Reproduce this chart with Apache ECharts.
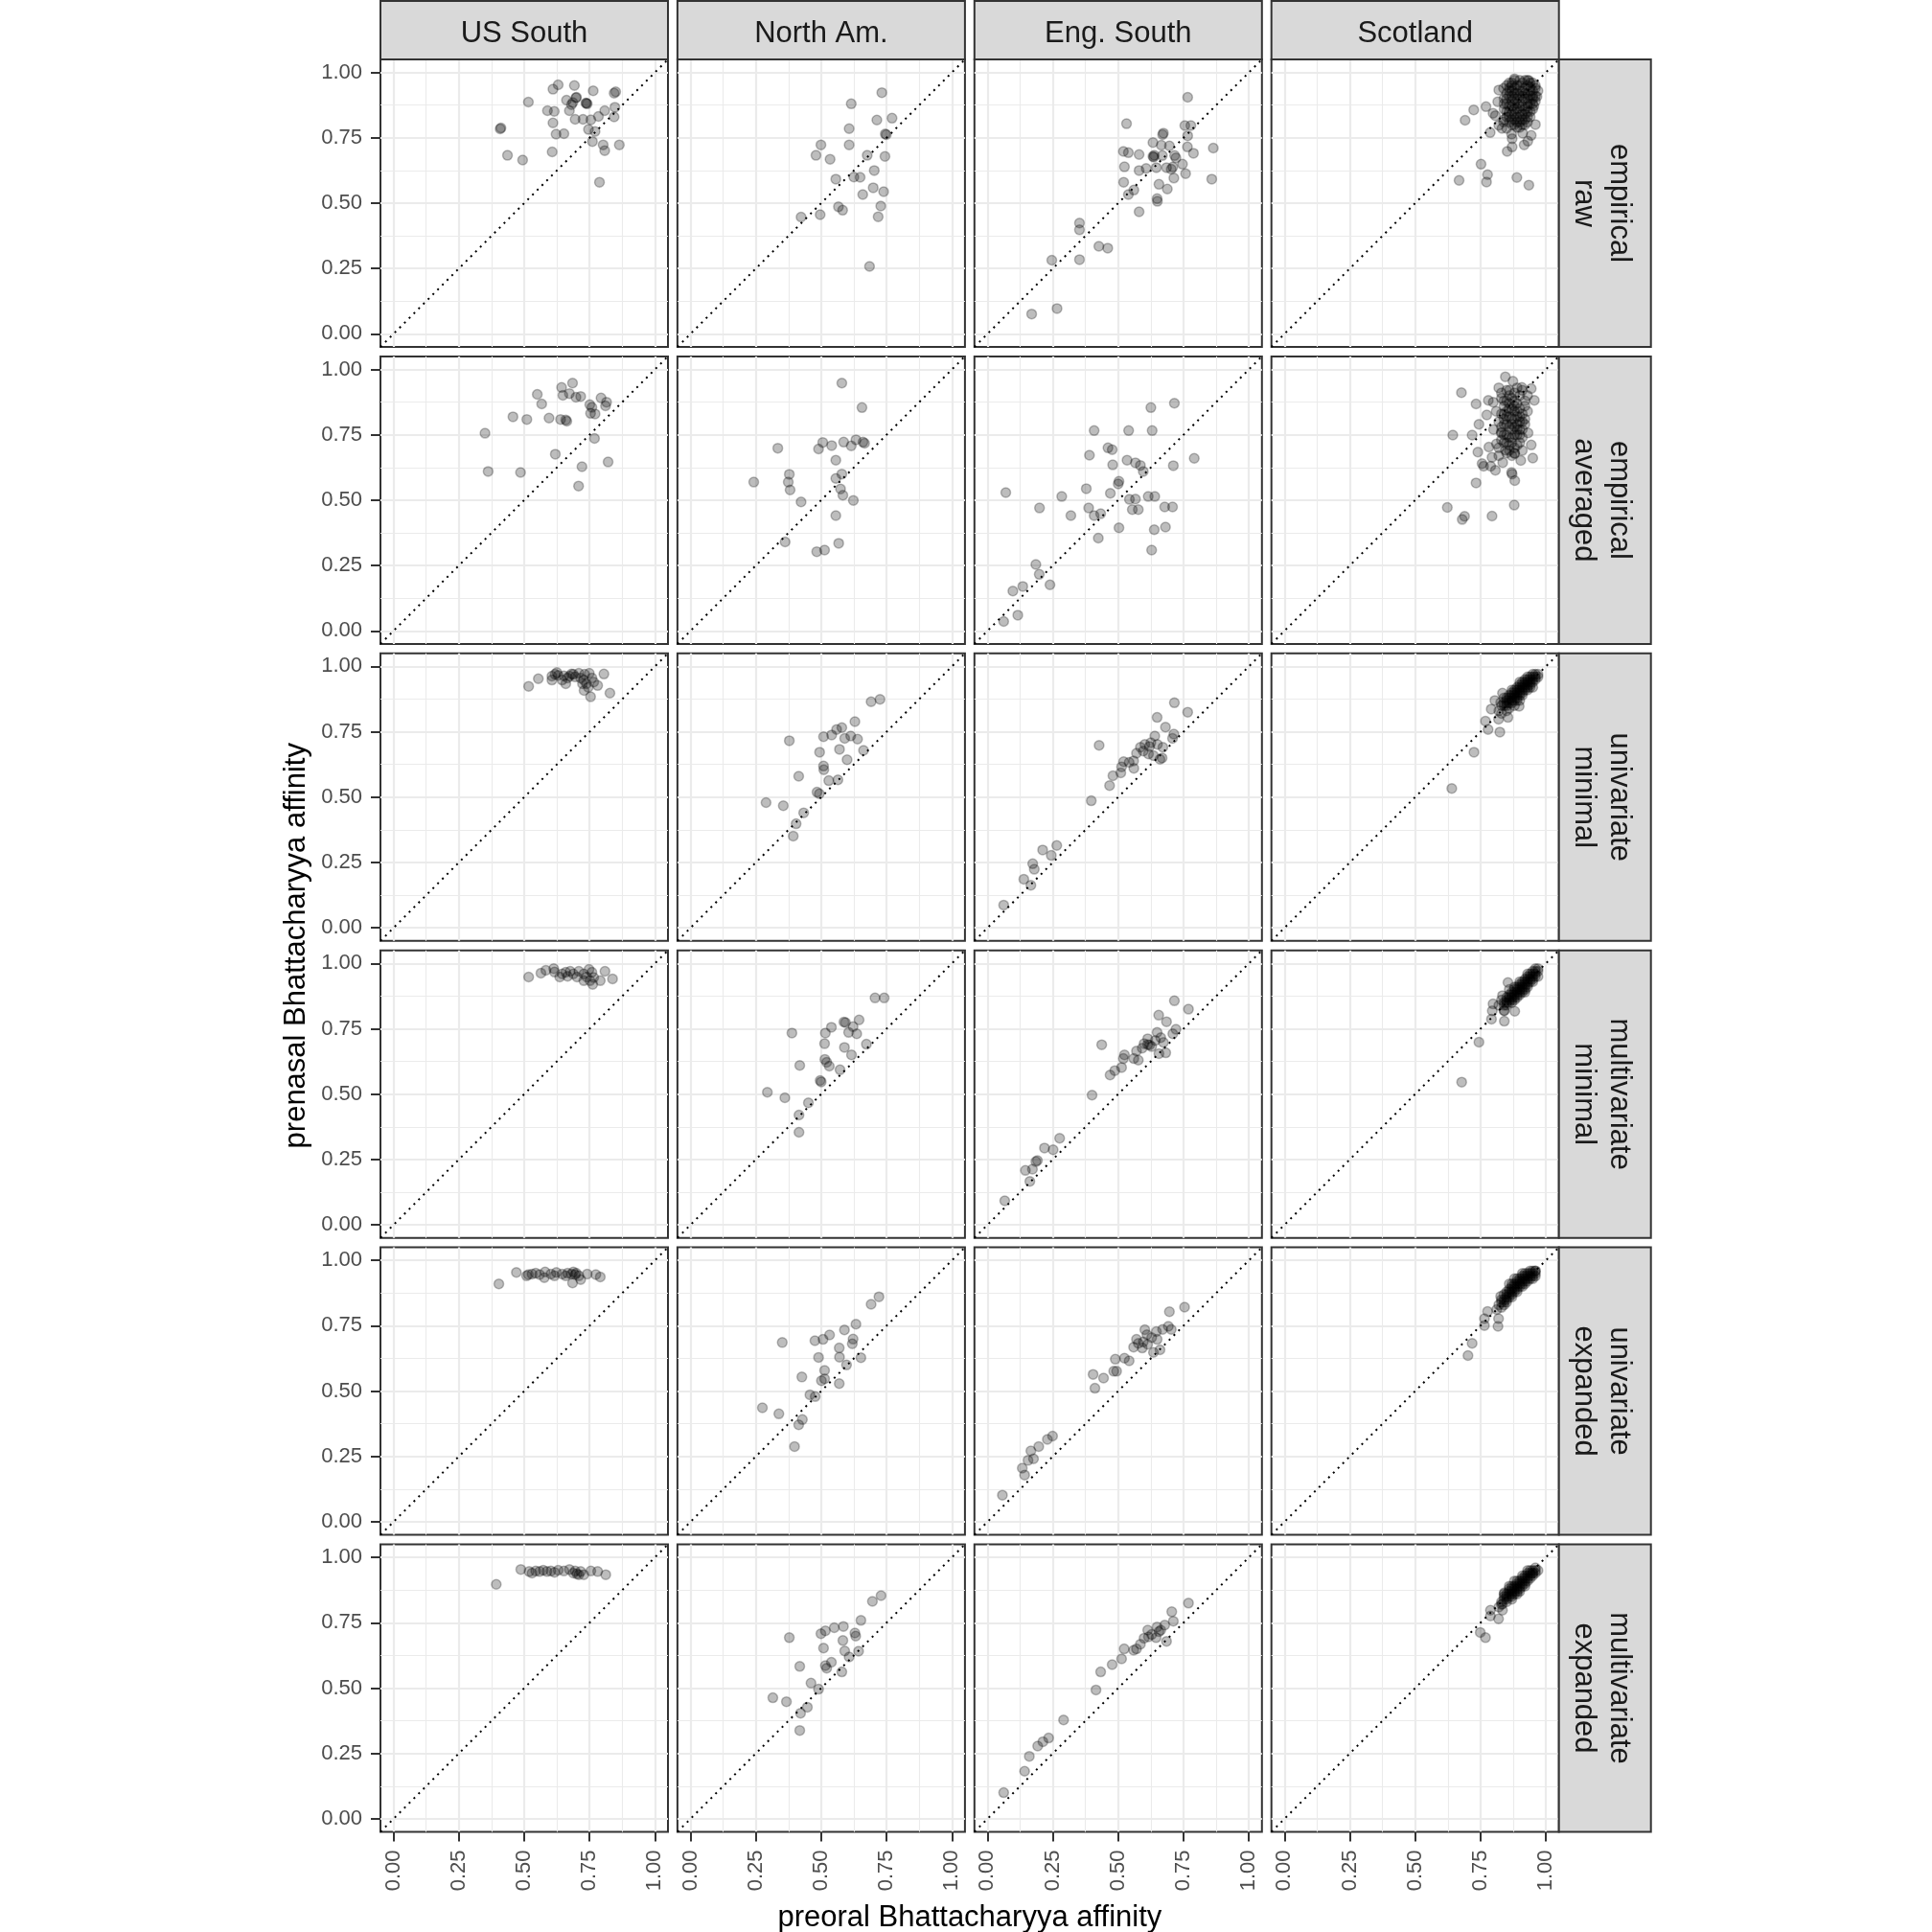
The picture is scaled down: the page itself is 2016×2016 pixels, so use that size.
<!DOCTYPE html>
<html><head><meta charset="utf-8">
<script src="https://cdn.jsdelivr.net/npm/echarts@6/dist/echarts.min.js"></script>
<style>html,body{margin:0;padding:0;background:#fff}#chart{width:2016px;height:2016px}</style>
</head><body><div id="chart"></div>
<script>
// ---------- labels ----------
const columnLabels = ["US South", "North Am.", "Eng. South", "Scotland"];
const rowLabels = ["empirical\nraw", "empirical\naveraged", "univariate\nminimal", "multivariate\nminimal", "univariate\nexpanded", "multivariate\nexpanded"];
const xTitle = "preoral Bhattacharyya affinity";
const yTitle = "prenasal Bhattacharyya affinity";
const tickValues = [0, 0.25, 0.5, 0.75, 1];
const tickLabels = ["0.00", "0.25", "0.50", "0.75", "1.00"];
const minorTickValues = [0.125, 0.375, 0.625, 0.875];
const axisRange = [-0.05, 1.05];
const refLine = [-0.05, 1.05];

// ---------- row 1: empirical raw ----------
const usSouth_empRaw = [[0.63,0.953],[0.61,0.936],[0.692,0.95],[0.764,0.93],[0.85,0.926],[0.844,0.921],[0.516,0.887],[0.662,0.894],[0.698,0.903],[0.70,0.905],[0.686,0.885],[0.681,0.877],[0.736,0.883],[0.741,0.88],[0.738,0.882],[0.589,0.854],[0.615,0.851],[0.673,0.854],[0.808,0.854],[0.847,0.867],[0.695,0.821],[0.725,0.821],[0.755,0.819],[0.784,0.832],[0.844,0.83],[0.61,0.807],[0.411,0.788],[0.408,0.784],[0.746,0.782],[0.771,0.774],[0.622,0.764],[0.652,0.766],[0.761,0.736],[0.802,0.723],[0.864,0.723],[0.808,0.701],[0.607,0.696],[0.436,0.683],[0.494,0.665],[0.788,0.58]];
const northAm_empRaw = [[0.732,0.923],[0.615,0.88],[0.713,0.818],[0.771,0.825],[0.607,0.785],[0.745,0.765],[0.749,0.762],[0.499,0.723],[0.607,0.723],[0.48,0.683],[0.534,0.668],[0.676,0.683],[0.744,0.679],[0.703,0.625],[0.556,0.592],[0.625,0.6],[0.649,0.599],[0.699,0.559],[0.739,0.544],[0.659,0.533],[0.728,0.489],[0.566,0.486],[0.582,0.473],[0.423,0.447],[0.496,0.456],[0.718,0.448],[0.685,0.258]];
const engSouth_empRaw = [[0.766,0.905],[0.532,0.804],[0.755,0.797],[0.778,0.797],[0.673,0.768],[0.67,0.762],[0.766,0.758],[0.633,0.732],[0.665,0.722],[0.696,0.719],[0.864,0.711],[0.765,0.715],[0.52,0.698],[0.539,0.693],[0.58,0.686],[0.638,0.683],[0.633,0.679],[0.636,0.676],[0.669,0.682],[0.716,0.682],[0.721,0.673],[0.788,0.691],[0.524,0.639],[0.58,0.625],[0.607,0.633],[0.646,0.636],[0.685,0.636],[0.703,0.63],[0.709,0.638],[0.746,0.649],[0.758,0.613],[0.713,0.596],[0.521,0.58],[0.858,0.592],[0.656,0.572],[0.688,0.554],[0.56,0.55],[0.539,0.533],[0.649,0.517],[0.65,0.507],[0.58,0.467],[0.352,0.424],[0.352,0.398],[0.426,0.335],[0.46,0.328],[0.246,0.282],[0.352,0.284],[0.169,0.076],[0.266,0.097]];
const scotland_empRaw = [[0.691,0.817],[0.724,0.857],[0.771,0.869],[0.82,0.933],[0.838,0.939],[0.816,0.888],[0.798,0.844],[0.787,0.77],[0.82,0.798],[0.832,0.786],[0.85,0.786],[0.88,0.976],[0.935,0.969],[0.752,0.649],[0.777,0.609],[0.773,0.581],[0.668,0.587],[0.889,0.598],[0.935,0.569],[0.852,0.698],[0.871,0.715],[0.871,0.747],[0.869,0.764],[0.917,0.723],[0.931,0.737],[0.944,0.759],[0.96,0.801],[0.911,0.768],[0.954,0.872],[0.966,0.908],[0.941,0.945],[0.807,0.835],[0.838,0.811],
  [0.85,0.95],[0.87,0.96],[0.89,0.95],[0.91,0.96],[0.93,0.95],[0.95,0.96],[0.86,0.93],[0.88,0.92],[0.90,0.93],[0.92,0.92],[0.94,0.93],[0.96,0.94],[0.85,0.90],[0.87,0.89],[0.89,0.90],[0.91,0.89],[0.93,0.90],[0.95,0.91],[0.84,0.88],[0.86,0.87],[0.88,0.86],[0.90,0.87],[0.92,0.86],[0.94,0.88],[0.85,0.85],[0.87,0.84],[0.89,0.83],[0.91,0.84],[0.93,0.85],[0.95,0.86],[0.84,0.82],[0.86,0.81],[0.88,0.82],[0.90,0.81],[0.92,0.82],[0.94,0.83],[0.87,0.80],[0.89,0.79],[0.91,0.80],[0.93,0.81],[0.86,0.94],[0.90,0.97],[0.92,0.94],[0.88,0.94],[0.89,0.88],[0.91,0.91],[0.87,0.91],[0.93,0.88],[0.90,0.85],[0.88,0.88],
  [0.86,0.96],[0.88,0.97],[0.92,0.97],[0.94,0.96],[0.96,0.95],[0.97,0.93],[0.85,0.92],[0.87,0.93],[0.89,0.92],[0.91,0.93],[0.93,0.92],[0.95,0.93],[0.96,0.91],[0.86,0.91],[0.88,0.90],[0.90,0.91],[0.92,0.90],[0.94,0.91],[0.96,0.89],[0.85,0.88],[0.87,0.87],[0.89,0.86],[0.91,0.87],[0.93,0.87],[0.95,0.88],[0.84,0.86],[0.86,0.85],[0.88,0.84],[0.90,0.83],[0.92,0.84],[0.94,0.85],[0.85,0.83],[0.87,0.82],[0.89,0.81],[0.91,0.82],[0.93,0.83],[0.88,0.80],[0.90,0.79],[0.92,0.80],[0.86,0.83],[0.84,0.90],[0.95,0.90],[0.90,0.95],[0.87,0.95],[0.93,0.97]];

// ---------- row 2: empirical averaged ----------
const usSouth_empAvg = [[0.685,0.948],[0.643,0.931],[0.648,0.901],[0.673,0.908],[0.698,0.894],[0.716,0.897],[0.55,0.905],[0.567,0.868],[0.751,0.865],[0.759,0.855],[0.794,0.891],[0.815,0.875],[0.811,0.861],[0.754,0.832],[0.771,0.83],[0.457,0.819],[0.51,0.809],[0.595,0.814],[0.639,0.809],[0.659,0.807],[0.663,0.802],[0.35,0.756],[0.769,0.736],[0.619,0.676],[0.821,0.646],[0.721,0.628],[0.362,0.61],[0.486,0.606],[0.708,0.554]];
const northAm_empAvg = [[0.579,0.948],[0.656,0.854],[0.334,0.699],[0.506,0.721],[0.49,0.696],[0.54,0.709],[0.586,0.722],[0.615,0.708],[0.633,0.731],[0.66,0.722],[0.666,0.718],[0.556,0.653],[0.378,0.599],[0.374,0.569],[0.381,0.539],[0.242,0.569],[0.579,0.6],[0.556,0.583],[0.574,0.543],[0.583,0.519],[0.623,0.499],[0.423,0.493],[0.556,0.441],[0.362,0.34],[0.567,0.335],[0.483,0.303],[0.513,0.309]];
const engSouth_empAvg = [[0.625,0.854],[0.715,0.871],[0.408,0.766],[0.54,0.766],[0.63,0.766],[0.461,0.7],[0.477,0.693],[0.39,0.672],[0.791,0.66],[0.479,0.635],[0.534,0.653],[0.566,0.643],[0.585,0.633],[0.596,0.61],[0.711,0.632],[0.503,0.572],[0.5,0.562],[0.378,0.544],[0.284,0.514],[0.07,0.529],[0.199,0.47],[0.319,0.441],[0.387,0.47],[0.408,0.441],[0.433,0.448],[0.47,0.526],[0.543,0.503],[0.566,0.504],[0.615,0.514],[0.64,0.514],[0.554,0.464],[0.577,0.464],[0.678,0.474],[0.708,0.474],[0.503,0.394],[0.638,0.387],[0.681,0.397],[0.424,0.355],[0.628,0.309],[0.185,0.254],[0.198,0.216],[0.135,0.17],[0.097,0.152],[0.239,0.176],[0.116,0.06],[0.062,0.036]];
const scotland_empAvg = [[0.845,0.972],[0.874,0.955],[0.677,0.911],[0.733,0.868],[0.78,0.882],[0.799,0.875],[0.774,0.826],[0.744,0.79],[0.644,0.749],[0.718,0.749],[0.74,0.684],[0.782,0.703],[0.794,0.664],[0.756,0.64],[0.762,0.63],[0.789,0.63],[0.807,0.614],[0.835,0.644],[0.869,0.606],[0.881,0.575],[0.904,0.652],[0.95,0.661],[0.944,0.711],[0.932,0.757],[0.956,0.882],[0.944,0.927],[0.908,0.931],[0.733,0.566],[0.623,0.472],[0.689,0.438],[0.68,0.426],[0.794,0.439],[0.879,0.481],[0.871,0.6],[0.845,0.691],[0.881,0.678],[0.811,0.715],[0.829,0.757],
  [0.82,0.93],[0.85,0.92],[0.88,0.91],[0.91,0.92],[0.93,0.90],[0.83,0.89],[0.85,0.88],[0.87,0.89],[0.89,0.87],[0.92,0.88],[0.84,0.86],[0.86,0.85],[0.88,0.84],[0.90,0.85],[0.83,0.83],[0.85,0.82],[0.87,0.81],[0.89,0.82],[0.91,0.80],[0.82,0.80],[0.84,0.79],[0.86,0.78],[0.88,0.78],[0.90,0.77],[0.92,0.79],[0.83,0.76],[0.85,0.75],[0.87,0.74],[0.89,0.75],[0.91,0.74],[0.84,0.72],[0.86,0.71],[0.88,0.70],[0.90,0.72],[0.82,0.70],[0.85,0.68],[0.87,0.67],[0.80,0.77],[0.81,0.84],[0.93,0.84],[0.86,0.90],[0.89,0.79],[0.84,0.81],[0.88,0.86],[0.90,0.82],
  [0.83,0.91],[0.86,0.92],[0.89,0.93],[0.90,0.90],[0.92,0.86],[0.84,0.88],[0.86,0.87],[0.88,0.88],[0.87,0.85],[0.89,0.84],[0.91,0.83],[0.85,0.84],[0.84,0.83],[0.86,0.82],[0.88,0.81],[0.90,0.80],[0.92,0.81],[0.83,0.78],[0.85,0.79],[0.87,0.79],[0.89,0.77],[0.91,0.77],[0.84,0.75],[0.86,0.74],[0.88,0.75],[0.90,0.75],[0.85,0.72],[0.87,0.72],[0.89,0.71],[0.83,0.73],[0.86,0.69],[0.88,0.68],[0.82,0.67],[0.91,0.69],[0.87,0.77]];

// ---------- row 3: univariate minimal ----------
const usSouth_uniMin = [[0.517,0.924],[0.554,0.953],[0.606,0.948],[0.606,0.963],[0.625,0.977],[0.618,0.97],[0.645,0.948],[0.659,0.934],[0.673,0.963],[0.688,0.97],[0.709,0.974],[0.731,0.97],[0.749,0.974],[0.728,0.948],[0.738,0.934],[0.729,0.908],[0.754,0.884],[0.781,0.927],[0.805,0.971],[0.828,0.898],[0.759,0.956],[0.716,0.956],[0.695,0.96],[0.666,0.956],[0.63,0.966],[0.745,0.92],[0.766,0.94],[0.652,0.964],[0.681,0.971],[0.723,0.934]];
const northAm_uniMin = [[0.691,0.865],[0.725,0.874],[0.629,0.789],[0.579,0.766],[0.559,0.759],[0.509,0.731],[0.54,0.738],[0.59,0.725],[0.613,0.734],[0.639,0.722],[0.378,0.716],[0.57,0.683],[0.662,0.679],[0.494,0.672],[0.599,0.643],[0.509,0.619],[0.51,0.605],[0.414,0.58],[0.529,0.563],[0.564,0.566],[0.484,0.519],[0.493,0.513],[0.289,0.479],[0.355,0.467],[0.433,0.44],[0.404,0.398],[0.393,0.351]];
const engSouth_uniMin = [[0.715,0.861],[0.766,0.825],[0.649,0.805],[0.427,0.698],[0.681,0.768],[0.713,0.741],[0.708,0.725],[0.64,0.734],[0.602,0.702],[0.625,0.708],[0.65,0.702],[0.671,0.691],[0.57,0.668],[0.596,0.676],[0.616,0.665],[0.635,0.659],[0.66,0.645],[0.668,0.65],[0.542,0.633],[0.559,0.639],[0.521,0.636],[0.513,0.616],[0.56,0.61],[0.51,0.593],[0.48,0.582],[0.467,0.544],[0.397,0.486],[0.265,0.315],[0.211,0.298],[0.244,0.277],[0.173,0.245],[0.179,0.224],[0.139,0.186],[0.166,0.163],[0.062,0.087],[0.585,0.691],[0.62,0.694]];
const scotland_uniMin = [[0.64,0.533],[0.725,0.672],[0.824,0.749],[0.779,0.759],[0.769,0.791],[0.791,0.837],[0.827,0.862],[0.834,0.898],[0.819,0.798],[0.855,0.805],[0.898,0.848],[0.805,0.87],
  [0.84,0.86],[0.85,0.85],[0.85,0.88],[0.86,0.87],[0.86,0.89],[0.87,0.86],[0.87,0.88],[0.87,0.90],[0.88,0.87],[0.88,0.89],[0.88,0.91],[0.89,0.88],[0.89,0.90],[0.89,0.92],[0.90,0.89],[0.90,0.91],[0.90,0.93],[0.91,0.90],[0.91,0.92],[0.91,0.94],[0.92,0.91],[0.92,0.93],[0.92,0.95],[0.93,0.92],[0.93,0.94],[0.93,0.96],[0.94,0.93],[0.94,0.95],[0.95,0.94],[0.95,0.96],[0.96,0.95],[0.96,0.97],[0.97,0.96],[0.86,0.84],[0.83,0.85],[0.84,0.88],[0.88,0.85],[0.90,0.87],[0.95,0.92],[0.97,0.97],[0.82,0.83],[0.83,0.82],[0.85,0.83],
  [0.85,0.87],[0.86,0.86],[0.87,0.89],[0.88,0.88],[0.89,0.91],[0.90,0.90],[0.91,0.93],[0.92,0.92],[0.93,0.95],[0.94,0.94],[0.95,0.95],[0.96,0.96],[0.86,0.88],[0.87,0.87],[0.88,0.90],[0.89,0.89],[0.90,0.92],[0.91,0.91],[0.92,0.94],[0.93,0.93],[0.94,0.96],[0.95,0.97],[0.84,0.85],[0.85,0.86],[0.89,0.87],[0.91,0.89],[0.93,0.91],[0.87,0.91],[0.90,0.94],[0.94,0.92]];

// ---------- row 4: multivariate minimal ----------
const usSouth_multiMin = [[0.517,0.948],[0.564,0.963],[0.583,0.974],[0.613,0.98],[0.616,0.967],[0.636,0.948],[0.659,0.966],[0.676,0.97],[0.688,0.96],[0.709,0.97],[0.728,0.96],[0.748,0.977],[0.759,0.966],[0.766,0.946],[0.728,0.934],[0.762,0.92],[0.791,0.934],[0.809,0.97],[0.838,0.941],[0.645,0.96],[0.666,0.951],[0.702,0.948],[0.739,0.948],[0.752,0.934]];
const northAm_multiMin = [[0.706,0.868],[0.741,0.868],[0.645,0.784],[0.587,0.776],[0.593,0.774],[0.622,0.758],[0.539,0.756],[0.516,0.734],[0.605,0.736],[0.636,0.731],[0.388,0.734],[0.513,0.693],[0.673,0.691],[0.589,0.679],[0.616,0.65],[0.514,0.633],[0.521,0.622],[0.531,0.607],[0.572,0.593],[0.418,0.61],[0.496,0.552],[0.5,0.547],[0.294,0.507],[0.361,0.486],[0.451,0.467],[0.415,0.42],[0.415,0.354]];
const engSouth_multiMin = [[0.715,0.857],[0.769,0.825],[0.655,0.802],[0.685,0.777],[0.437,0.689],[0.721,0.748],[0.709,0.731],[0.649,0.736],[0.613,0.712],[0.642,0.705],[0.663,0.716],[0.673,0.698],[0.599,0.693],[0.62,0.688],[0.592,0.676],[0.57,0.665],[0.682,0.658],[0.656,0.655],[0.524,0.65],[0.52,0.636],[0.56,0.636],[0.577,0.63],[0.513,0.602],[0.487,0.59],[0.469,0.573],[0.4,0.496],[0.276,0.331],[0.218,0.294],[0.251,0.287],[0.191,0.246],[0.185,0.242],[0.172,0.213],[0.145,0.208],[0.162,0.166],[0.066,0.092],[0.628,0.682],[0.613,0.69]];
const scotland_multiMin = [[0.678,0.546],[0.744,0.699],[0.792,0.787],[0.841,0.779],[0.795,0.819],[0.798,0.845],[0.841,0.819],[0.881,0.817],[0.855,0.927],[0.834,0.877],
  [0.84,0.85],[0.85,0.87],[0.85,0.84],[0.86,0.86],[0.86,0.88],[0.87,0.87],[0.87,0.89],[0.87,0.85],[0.88,0.88],[0.88,0.90],[0.88,0.86],[0.89,0.89],[0.89,0.91],[0.89,0.87],[0.90,0.90],[0.90,0.92],[0.90,0.88],[0.91,0.91],[0.91,0.93],[0.91,0.89],[0.92,0.92],[0.92,0.94],[0.92,0.90],[0.93,0.93],[0.93,0.95],[0.93,0.91],[0.94,0.94],[0.94,0.96],[0.95,0.95],[0.95,0.97],[0.96,0.96],[0.96,0.98],[0.97,0.97],[0.95,0.93],[0.83,0.86],[0.86,0.90],[0.82,0.84],[0.84,0.82],[0.97,0.95],
  [0.85,0.86],[0.86,0.85],[0.87,0.88],[0.88,0.87],[0.89,0.90],[0.90,0.89],[0.91,0.92],[0.92,0.91],[0.93,0.94],[0.94,0.93],[0.95,0.96],[0.96,0.95],[0.97,0.98],[0.86,0.87],[0.87,0.86],[0.88,0.89],[0.89,0.88],[0.90,0.91],[0.91,0.90],[0.92,0.93],[0.93,0.92],[0.94,0.95],[0.95,0.94],[0.96,0.97],[0.84,0.84],[0.85,0.85],[0.88,0.91],[0.90,0.93],[0.93,0.96],[0.92,0.89]];

// ---------- row 5: univariate expanded ----------
const usSouth_uniExp = [[0.403,0.91],[0.47,0.954],[0.516,0.946],[0.53,0.948],[0.544,0.951],[0.58,0.956],[0.577,0.934],[0.602,0.948],[0.623,0.954],[0.645,0.948],[0.666,0.951],[0.681,0.948],[0.688,0.956],[0.695,0.946],[0.685,0.914],[0.716,0.927],[0.741,0.948],[0.774,0.946],[0.791,0.937],[0.559,0.946],[0.616,0.941],[0.659,0.941],[0.699,0.951],[0.709,0.941],[0.509,0.941]];
const northAm_uniExp = [[0.721,0.861],[0.691,0.832],[0.633,0.756],[0.589,0.734],[0.532,0.715],[0.507,0.698],[0.476,0.693],[0.622,0.699],[0.619,0.681],[0.351,0.686],[0.569,0.665],[0.49,0.629],[0.57,0.63],[0.652,0.628],[0.597,0.6],[0.513,0.579],[0.426,0.554],[0.501,0.54],[0.513,0.547],[0.569,0.529],[0.457,0.486],[0.477,0.479],[0.275,0.436],[0.338,0.413],[0.428,0.391],[0.414,0.371],[0.398,0.288]];
const engSouth_uniExp = [[0.754,0.821],[0.696,0.804],[0.602,0.735],[0.692,0.748],[0.703,0.736],[0.67,0.736],[0.646,0.728],[0.61,0.716],[0.628,0.705],[0.649,0.698],[0.596,0.688],[0.577,0.683],[0.613,0.679],[0.559,0.668],[0.66,0.658],[0.635,0.648],[0.592,0.665],[0.524,0.626],[0.489,0.622],[0.542,0.616],[0.494,0.576],[0.483,0.576],[0.404,0.564],[0.444,0.55],[0.411,0.511],[0.249,0.328],[0.229,0.315],[0.196,0.288],[0.166,0.271],[0.176,0.241],[0.155,0.235],[0.133,0.205],[0.142,0.179],[0.057,0.102],[0.57,0.698]];
const scotland_uniExp = [[0.702,0.636],[0.718,0.683],[0.765,0.751],[0.765,0.777],[0.817,0.748],[0.819,0.777],[0.777,0.805],[0.827,0.862],[0.812,0.812],
  [0.82,0.83],[0.83,0.85],[0.84,0.84],[0.84,0.87],[0.85,0.86],[0.85,0.88],[0.86,0.87],[0.86,0.89],[0.87,0.88],[0.87,0.90],[0.88,0.89],[0.88,0.91],[0.89,0.90],[0.89,0.92],[0.90,0.91],[0.90,0.93],[0.91,0.92],[0.91,0.94],[0.92,0.93],[0.92,0.95],[0.93,0.94],[0.93,0.92],[0.94,0.95],[0.94,0.93],[0.95,0.96],[0.95,0.94],[0.96,0.95],[0.96,0.96],[0.87,0.86],[0.89,0.88],[0.91,0.90],[0.85,0.84],[0.83,0.82],[0.92,0.91],[0.88,0.93],[0.86,0.91],
  [0.83,0.84],[0.84,0.85],[0.85,0.87],[0.86,0.88],[0.87,0.89],[0.88,0.90],[0.89,0.91],[0.90,0.92],[0.91,0.93],[0.92,0.94],[0.93,0.95],[0.94,0.94],[0.95,0.95],[0.96,0.96],[0.84,0.83],[0.86,0.86],[0.87,0.87],[0.88,0.88],[0.89,0.89],[0.90,0.90],[0.91,0.91],[0.92,0.92],[0.93,0.93],[0.94,0.96],[0.95,0.93],[0.85,0.85],[0.87,0.91],[0.89,0.93],[0.91,0.95],[0.96,0.94]];

// ---------- row 6: multivariate expanded ----------
const usSouth_multiExp = [[0.393,0.897],[0.487,0.954],[0.519,0.946],[0.544,0.948],[0.573,0.951],[0.602,0.948],[0.63,0.951],[0.652,0.948],[0.673,0.954],[0.695,0.948],[0.702,0.937],[0.716,0.946],[0.728,0.934],[0.755,0.948],[0.781,0.946],[0.812,0.934],[0.559,0.946],[0.587,0.946],[0.688,0.94],[0.709,0.934],[0.53,0.94],[0.616,0.943]];
const northAm_multiExp = [[0.729,0.854],[0.696,0.832],[0.652,0.759],[0.585,0.736],[0.55,0.731],[0.516,0.719],[0.499,0.708],[0.629,0.711],[0.632,0.699],[0.378,0.693],[0.583,0.682],[0.509,0.653],[0.59,0.642],[0.643,0.641],[0.607,0.619],[0.539,0.599],[0.516,0.586],[0.521,0.576],[0.579,0.562],[0.418,0.583],[0.461,0.519],[0.49,0.496],[0.315,0.463],[0.367,0.448],[0.447,0.427],[0.421,0.404],[0.418,0.338]];
const engSouth_multiExp = [[0.769,0.825],[0.705,0.792],[0.711,0.756],[0.678,0.741],[0.649,0.734],[0.663,0.722],[0.613,0.722],[0.628,0.705],[0.645,0.693],[0.685,0.679],[0.599,0.691],[0.585,0.668],[0.57,0.65],[0.559,0.645],[0.523,0.65],[0.513,0.612],[0.477,0.59],[0.433,0.562],[0.415,0.493],[0.291,0.378],[0.234,0.309],[0.212,0.295],[0.192,0.278],[0.16,0.239],[0.142,0.182],[0.062,0.1],[0.616,0.696],[0.656,0.716]];
const scotland_multiExp = [[0.769,0.693],[0.749,0.713],[0.788,0.798],[0.788,0.776],[0.819,0.765],[0.834,0.798],[0.841,0.865],[0.834,0.822],
  [0.84,0.84],[0.85,0.86],[0.85,0.83],[0.86,0.85],[0.86,0.87],[0.87,0.86],[0.87,0.88],[0.88,0.87],[0.88,0.89],[0.89,0.88],[0.89,0.90],[0.90,0.89],[0.90,0.91],[0.91,0.90],[0.91,0.92],[0.92,0.91],[0.92,0.93],[0.93,0.92],[0.93,0.94],[0.94,0.93],[0.94,0.95],[0.95,0.94],[0.95,0.95],[0.96,0.95],[0.97,0.95],[0.83,0.83],[0.87,0.84],[0.89,0.86],[0.90,0.87],[0.92,0.89],[0.86,0.89],[0.88,0.91],[0.82,0.81],[0.84,0.86],
  [0.85,0.85],[0.86,0.86],[0.87,0.87],[0.88,0.88],[0.89,0.89],[0.90,0.90],[0.91,0.91],[0.92,0.92],[0.93,0.93],[0.94,0.94],[0.95,0.93],[0.96,0.94],[0.85,0.84],[0.86,0.88],[0.87,0.85],[0.88,0.86],[0.89,0.87],[0.90,0.88],[0.91,0.89],[0.92,0.90],[0.93,0.91],[0.94,0.92],[0.95,0.94],[0.96,0.96],[0.84,0.85],[0.87,0.89],[0.89,0.91],[0.91,0.93],[0.93,0.95],[0.83,0.82]];

const panelData = [
  [usSouth_empRaw, northAm_empRaw, engSouth_empRaw, scotland_empRaw],
  [usSouth_empAvg, northAm_empAvg, engSouth_empAvg, scotland_empAvg],
  [usSouth_uniMin, northAm_uniMin, engSouth_uniMin, scotland_uniMin],
  [usSouth_multiMin, northAm_multiMin, engSouth_multiMin, scotland_multiMin],
  [usSouth_uniExp, northAm_uniExp, engSouth_uniExp, scotland_uniExp],
  [usSouth_multiExp, northAm_multiExp, engSouth_multiExp, scotland_multiExp]
];

// ---------- layout ----------
const FONT = '"Liberation Sans", Arial, Helvetica, sans-serif';
const PANEL_LEFT = 397, PANEL_TOP = 62, PANEL = 300, STEP = 309.9;
const STRIP_TOP_H = 61, STRIP_RIGHT_W = 96;
const nRows = rowLabels.length, nCols = columnLabels.length;

const grids = [], xAxes = [], yAxes = [], series = [], graphics = [];
const labelFmt = v => { const k = tickValues.findIndex(t => Math.abs(t - v) < 1e-9); return k >= 0 ? tickLabels[k] : ''; };

for (let r = 0; r < nRows; r++) {
  for (let c = 0; c < nCols; c++) {
    const i = r * nCols + c;
    const left = PANEL_LEFT + c * STEP, top = PANEL_TOP + r * STEP;
    grids.push({ left, top, width: PANEL, height: PANEL, show: true, backgroundColor: '#fff', borderColor: '#333333', borderWidth: 2, containLabel: false });
    const isBottom = r === nRows - 1, isLeft = c === 0;
    // major x
    xAxes.push({ gridIndex: i, type: 'value', min: axisRange[0], max: axisRange[1], position: 'bottom',
      axisLine: { show: false, onZero: false },
      axisTick: { show: isBottom, customValues: tickValues, length: 10, lineStyle: { color: '#333333', width: 2 } },
      axisLabel: { show: isBottom, customValues: tickValues, rotate: 90, margin: 19, formatter: labelFmt, fontSize: 22, fontFamily: FONT, color: '#4D4D4D' },
      splitLine: { show: true, lineStyle: { color: '#EBEBEB', width: 2.2 } } });
    // minor x
    xAxes.push({ gridIndex: i, type: 'value', min: axisRange[0], max: axisRange[1], position: 'top',
      axisLine: { show: false, onZero: false }, axisTick: { show: false, customValues: minorTickValues }, axisLabel: { show: false },
      splitLine: { show: true, lineStyle: { color: '#EBEBEB', width: 1.1 } } });
    // major y
    yAxes.push({ gridIndex: i, type: 'value', min: axisRange[0], max: axisRange[1], position: 'left',
      axisLine: { show: false, onZero: false },
      axisTick: { show: isLeft, customValues: tickValues, length: 10, lineStyle: { color: '#333333', width: 2 } },
      axisLabel: { show: isLeft, customValues: tickValues, margin: 19, formatter: labelFmt, fontSize: 22, fontFamily: FONT, color: '#4D4D4D' },
      splitLine: { show: true, lineStyle: { color: '#EBEBEB', width: 2.2 } } });
    // minor y
    yAxes.push({ gridIndex: i, type: 'value', min: axisRange[0], max: axisRange[1], position: 'right',
      axisLine: { show: false, onZero: false }, axisTick: { show: false, customValues: minorTickValues }, axisLabel: { show: false },
      splitLine: { show: true, lineStyle: { color: '#EBEBEB', width: 1.1 } } });

    series.push({ type: 'scatter', xAxisIndex: 2 * i, yAxisIndex: 2 * i, data: panelData[r][c],
      symbol: 'circle', symbolSize: 10, silent: true, z: 3,
      itemStyle: { color: 'rgba(0,0,0,0.32)', borderColor: 'rgba(0,0,0,0.32)', borderWidth: 1.5 } });
    series.push({ type: 'line', xAxisIndex: 2 * i, yAxisIndex: 2 * i, data: refLine.map(v => [v, v]),
      symbol: 'none', silent: true, z: 4,
      lineStyle: { color: '#000', width: 2, type: [2, 5] } });
  }
}

// column strips
for (let c = 0; c < nCols; c++) {
  const left = PANEL_LEFT + c * STEP;
  graphics.push({ type: 'rect', shape: { x: left, y: PANEL_TOP - STRIP_TOP_H, width: PANEL, height: STRIP_TOP_H },
    style: { fill: '#D9D9D9', stroke: '#333333', lineWidth: 2 }, z: 10 });
  graphics.push({ type: 'text', x: left + PANEL / 2, y: PANEL_TOP - STRIP_TOP_H / 2 + 3.5, z: 11,
    style: { text: columnLabels[c], align: 'center', verticalAlign: 'middle', fontSize: 31, fontFamily: FONT, fill: '#1A1A1A' } });
}
// row strips
const stripX = PANEL_LEFT + (nCols - 1) * STEP + PANEL;
for (let r = 0; r < nRows; r++) {
  const top = PANEL_TOP + r * STEP;
  graphics.push({ type: 'rect', shape: { x: stripX, y: top, width: STRIP_RIGHT_W, height: PANEL },
    style: { fill: '#D9D9D9', stroke: '#333333', lineWidth: 2 }, z: 10 });
  graphics.push({ type: 'text', x: stripX + STRIP_RIGHT_W / 2 - 3.5, y: top + PANEL / 2, rotation: -Math.PI / 2, z: 11,
    style: { text: rowLabels[r], align: 'center', verticalAlign: 'middle', fontSize: 31, lineHeight: 37, fontFamily: FONT, fill: '#1A1A1A' } });
}
// axis titles
const panelsCenterX = PANEL_LEFT + ((nCols - 1) * STEP + PANEL) / 2;
const panelsCenterY = PANEL_TOP + ((nRows - 1) * STEP + PANEL) / 2;
graphics.push({ type: 'text', x: panelsCenterX, y: 2001.5, z: 11,
  style: { text: xTitle, align: 'center', verticalAlign: 'middle', fontSize: 31, fontFamily: FONT, fill: '#000' } });
graphics.push({ type: 'text', x: 309, y: panelsCenterY, rotation: Math.PI / 2, z: 11,
  style: { text: yTitle, align: 'center', verticalAlign: 'middle', fontSize: 31, fontFamily: FONT, fill: '#000' } });

const chart = echarts.init(document.getElementById('chart'), null, { renderer: 'canvas' });
chart.setOption({
  backgroundColor: '#ffffff',
  animation: false,
  grid: grids, xAxis: xAxes, yAxis: yAxes, series: series,
  graphic: { elements: graphics }
});
</script></body></html>
